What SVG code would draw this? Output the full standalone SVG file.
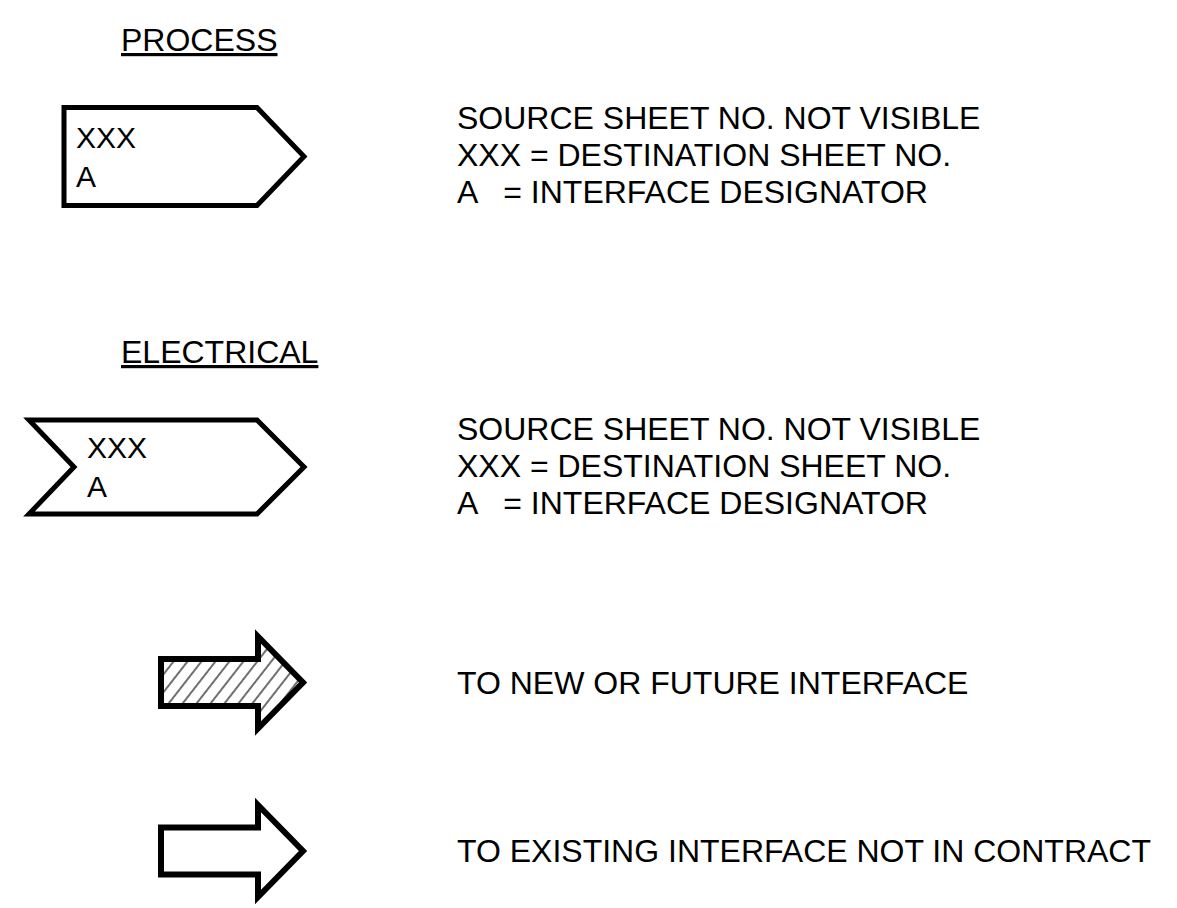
<svg xmlns="http://www.w3.org/2000/svg" width="1177" height="908" viewBox="0 0 1177 908">
<style>
.t{font-family:"Liberation Sans",Arial,sans-serif;font-size:32px;fill:#000}
.in{font-family:"Liberation Sans",Arial,sans-serif;font-size:30px;fill:#000}
.ttl{text-decoration:underline}
.sh{fill:#fff;stroke:#000;stroke-width:5;stroke-linejoin:miter}
.ar{stroke:#000;stroke-width:6;stroke-linejoin:miter}
</style>
<defs>
<pattern id="hatch" patternUnits="userSpaceOnUse" width="11" height="11" patternTransform="rotate(38)">
<rect width="11" height="11" fill="#fff"/>
<line x1="5" y1="0" x2="5" y2="11" stroke="#222" stroke-width="1.3"/>
</pattern>
</defs>
<rect width="1177" height="908" fill="#fff"/>

<g id="process-section">
<text class="t ttl" x="121" y="51">PROCESS</text>
</g>
<g id="process-symbol">
<polygon class="sh" points="64,107.5 257,107.5 304,156.5 257,205.5 64,205.5"/>
<text class="in" x="76" y="148">XXX</text>
<text class="in" x="76" y="187">A</text>
</g>
<g id="process-legend">
<text class="t" x="457" y="129">SOURCE SHEET NO. NOT VISIBLE</text>
<text class="t" x="457" y="166">XXX = DESTINATION SHEET NO.</text>
<text class="t" x="457" y="203" xml:space="preserve" style="white-space:pre">A   = INTERFACE DESIGNATOR</text>
</g>

<g id="electrical-section">
<text class="t ttl" x="121" y="363">ELECTRICAL</text>
</g>
<g id="electrical-symbol">
<polygon class="sh" points="29,420 257,420 304,467 257,514 29,514 74,467"/>
<text class="in" x="87" y="458">XXX</text>
<text class="in" x="87" y="497">A</text>
</g>
<g id="electrical-legend">
<text class="t" x="457" y="440">SOURCE SHEET NO. NOT VISIBLE</text>
<text class="t" x="457" y="477">XXX = DESTINATION SHEET NO.</text>
<text class="t" x="457" y="514" xml:space="preserve" style="white-space:pre">A   = INTERFACE DESIGNATOR</text>
</g>

<g id="new-interface">
<polygon class="ar" fill="url(#hatch)" points="161,659 258,659 258,636.5 303,682.5 258,728.5 258,706 161,706"/>
<text class="t" x="457" y="694">TO NEW OR FUTURE INTERFACE</text>
</g>

<g id="existing-interface">
<polygon class="ar" fill="#fff" points="161,827.5 258,827.5 258,805 303,851 258,897 258,874.5 161,874.5"/>
<text class="t" x="457" y="862">TO EXISTING INTERFACE NOT IN CONTRACT</text>
</g>

<g id="connectors"></g>
</svg>
